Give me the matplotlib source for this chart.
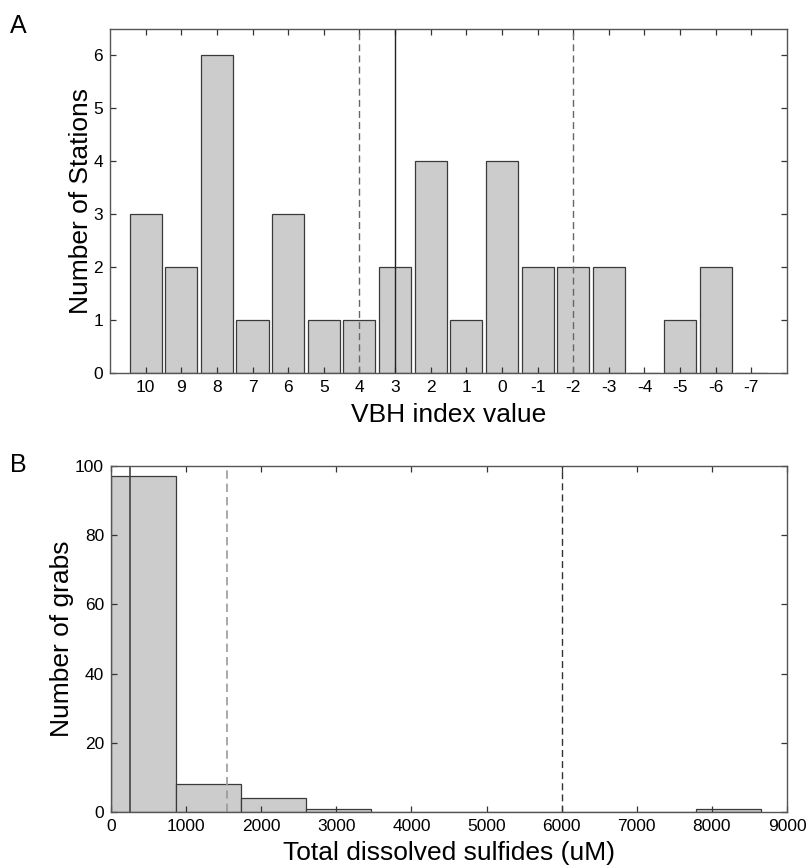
"""Two-panel histogram: VBH index per station (A) and total dissolved sulfides per grab (B)."""
import numpy as np
import matplotlib
matplotlib.use("Agg")
import matplotlib.pyplot as plt

# panel A: stations per VBH index value
vbh_values = [10, 9, 8, 7, 6, 5, 4, 3, 2, 1, 0, -1, -2, -3, -4, -5, -6, -7]
vbh_counts = [3, 2, 6, 1, 3, 1, 1, 2, 4, 1, 4, 2, 2, 2, 0, 1, 2, 0]
vbh_dashed = [4, -2]
vbh_solid = [3]

# panel B: grabs per sulfide bin (10 equal bins)
tds_min, tds_max = 0, 8650
tds_counts = [97, 8, 4, 1, 0, 0, 0, 0, 0, 1]
tds_solid = 255
tds_dashed_light = 1540
tds_dashed_dark = 6000

plt.rcParams["font.family"] = ["Liberation Sans", "DejaVu Sans"]

FACE = "#cccccc"
EDGE = "#3a3a3a"
FRAME = "#555555"


def style(ax):
    ax.tick_params(direction="in", top=True, right=True, length=4.5,
                   width=0.9, color="#333333", labelsize=12.5, pad=5)
    for s in ax.spines.values():
        s.set_color(FRAME)
        s.set_linewidth(1.0)


fig = plt.figure(figsize=(8.07, 8.67), dpi=100)

# ---- A
ax1 = fig.add_axes([0.1363, 0.5698, 0.9752 - 0.1363, 0.9666 - 0.5698])
pos = np.arange(1, len(vbh_values) + 1)
ax1.bar(pos, vbh_counts, width=0.9, color=FACE, edgecolor=EDGE, linewidth=0.9)
idx = {v: p for v, p in zip(vbh_values, pos)}
for v in vbh_dashed:
    ax1.axvline(idx[v], color="#666666", ls=(0, (5, 3)), lw=1.0)
for v in vbh_solid:
    ax1.axvline(idx[v], color="#222222", lw=1.0)
ax1.set_xlim(0, len(vbh_values) + 1)
ax1.set_ylim(0, 6.5)
ax1.set_xticks(pos)
ax1.set_xticklabels([str(v) for v in vbh_values])
ax1.set_yticks(range(0, 7))
ax1.set_xlabel("VBH index value", fontsize=19, labelpad=6)
ax1.set_ylabel("Number of Stations", fontsize=19, labelpad=0)
style(ax1)
fig.text(0.012, 0.962, "A", fontsize=18, va="baseline")

# ---- B
ax2 = fig.add_axes([0.1375, 0.0634, 0.9752 - 0.1375, 0.4625 - 0.0634])
edges = np.linspace(tds_min, tds_max, len(tds_counts) + 1)
ax2.bar(edges[:-1], tds_counts, width=np.diff(edges), align="edge",
        color=FACE, edgecolor=EDGE, linewidth=0.9)
ax2.axvline(tds_solid, color="#444444", lw=1.2)
ax2.axvline(tds_dashed_light, color="#999999", ls=(0, (5, 3)), lw=1.2)
ax2.axvline(tds_dashed_dark, color="#333333", ls=(0, (5, 3)), lw=1.0)
ax2.set_xlim(0, 9000)
ax2.set_ylim(0, 100)
ax2.set_xticks(range(0, 9001, 1000))
ax2.set_yticks(range(0, 101, 20))
ax2.set_xlabel("Total dissolved sulfides (uM)", fontsize=19, labelpad=5)
ax2.set_ylabel("Number of grabs", fontsize=19, labelpad=1)
style(ax2)
fig.text(0.012, 0.456, "B", fontsize=18, va="baseline")

fig.savefig("out.png", dpi=100)
